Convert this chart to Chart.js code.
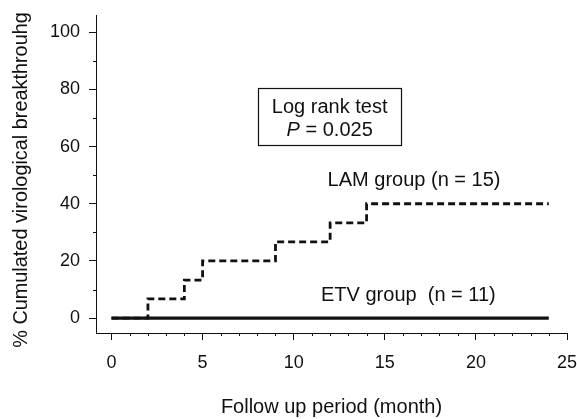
<!DOCTYPE html>
<html>
<head>
<meta charset="utf-8">
<script src="https://cdn.jsdelivr.net/npm/chart.js@4/dist/chart.umd.min.js"></script>
<style>
  html, body { margin: 0; padding: 0; background: #fff; }
  #wrap { width: 577px; height: 419px; }
</style>
</head>
<body>
<div id="wrap"><canvas id="c" width="577" height="419"></canvas></div>
<script>
// ---- data ----
const lamMonths = [0, 2, 4, 5, 9, 12, 14, 24];
const lamValues = [0, 6.7, 13.3, 20, 26.7, 33.3, 40, 40];
const etvMonths = [0, 24];
const etvValues = [0, 0];
const xTicks = [0, 5, 10, 15, 20, 25];
const yTicks = [0, 20, 40, 60, 80, 100];
const xMinor = [1,2,3,4,6,7,8,9,11,12,13,14,16,17,18,19,21,22,23,24];
const yMinor = [10, 30, 50, 70, 90];
const yTitle = '% Cumulated virological breakthrouhg';
const labelLam = 'LAM group (n = 15)';
const labelEtv = 'ETV group  (n = 11)';
const boxLine1 = 'Log rank test';
const boxLine2 = '0.025';

const FONT = '"Liberation Sans", Arial, Helvetica, sans-serif';
const INK = '#111';

const toXY = (xs, ys) => xs.map((x, i) => ({x, y: ys[i]}));

const annot = {
  id: 'annot',
  afterDatasetsDraw(chart) {
    const {ctx, scales: {x, y}} = chart;
    ctx.save();
    // minor ticks
    ctx.strokeStyle = INK; ctx.lineWidth = 1;
    const ax = y.right, ay = x.top;
    yMinor.forEach(v => {
      const py = Math.round(y.getPixelForValue(v)) + 0.5;
      ctx.beginPath(); ctx.moveTo(ax - 3, py); ctx.lineTo(ax, py); ctx.stroke();
    });
    xMinor.forEach(v => {
      const px = Math.round(x.getPixelForValue(v)) + 0.5;
      ctx.beginPath(); ctx.moveTo(px, ay); ctx.lineTo(px, ay + 3); ctx.stroke();
    });
    // y axis title (rotated, fitted to the reference length)
    ctx.fillStyle = INK;
    ctx.font = '20px ' + FONT;
    const w20 = ctx.measureText(yTitle).width;
    const fs = Math.min(20, 20 * 336 / w20);
    ctx.save();
    ctx.translate(22, 180);
    ctx.rotate(-Math.PI / 2);
    ctx.font = fs.toFixed(2) + 'px ' + FONT;
    ctx.textAlign = 'center'; ctx.textBaseline = 'middle';
    ctx.fillText(yTitle, 0, 0);
    ctx.restore();
    // labels
    ctx.font = '20px ' + FONT;
    ctx.textAlign = 'left'; ctx.textBaseline = 'middle';
    ctx.fillText(labelLam, x.getPixelForValue(11.86), y.getPixelForValue(48.3));
    ctx.fillText(labelEtv, x.getPixelForValue(11.5), y.getPixelForValue(8));
    // box
    const bl = x.getPixelForValue(8.05), br = x.getPixelForValue(15.9);
    const bt = y.getPixelForValue(80.4), bb = y.getPixelForValue(60.5);
    ctx.lineWidth = 1.2;
    ctx.strokeRect(Math.round(bl) + 0.5, Math.round(bt) + 0.5, Math.round(br - bl), Math.round(bb - bt));
    const cx = (bl + br) / 2;
    ctx.textAlign = 'center';
    ctx.fillText(boxLine1, cx, y.getPixelForValue(73.6));
    // P = 0.025 with italic P
    const py = y.getPixelForValue(65.6);
    ctx.font = 'italic 20px ' + FONT;
    const wP = ctx.measureText('P').width;
    ctx.font = '20px ' + FONT;
    const rest = ' = ' + boxLine2;
    const wR = ctx.measureText(rest).width;
    const sx = cx - (wP + wR) / 2;
    ctx.textAlign = 'left';
    ctx.font = 'italic 20px ' + FONT;
    ctx.fillText('P', sx, py);
    ctx.font = '20px ' + FONT;
    ctx.fillText(rest, sx + wP, py);
    ctx.restore();
  }
};

new Chart(document.getElementById('c'), {
  type: 'line',
  data: {
    datasets: [
      {
        label: 'ETV group',
        data: toXY(etvMonths, etvValues),
        borderColor: INK, borderWidth: 3.2,
        pointRadius: 0, fill: false, stepped: 'before'
      },
      {
        label: 'LAM group',
        data: toXY(lamMonths, lamValues),
        borderColor: INK, borderWidth: 2.8, borderDash: [7, 4],
        pointRadius: 0, fill: false, stepped: 'before'
      }
    ]
  },
  options: {
    responsive: false,
    animation: false,
    layout: { padding: { left: 0, right: 0, top: 15, bottom: 0 } },
    plugins: { legend: { display: false }, tooltip: { enabled: false } },
    scales: {
      x: {
        type: 'linear', min: -0.85, max: 25,
        afterBuildTicks(s) { s.ticks = xTicks.map(v => ({value: v})); },
        afterFit(s) { s.height = 86; s.paddingRight = 10; s.paddingLeft = 0; },
        grid: { drawOnChartArea: false, drawTicks: true, tickLength: 7, color: INK },
        border: { display: true, color: INK, width: 1 },
        ticks: { color: INK, font: { family: FONT, size: 18 }, padding: 12, maxRotation: 0 },
        title: { display: true, text: 'Follow up period (month)', color: INK,
                 font: { family: FONT, size: 20 }, padding: { top: 22, bottom: 0 } }
      },
      y: {
        type: 'linear', min: -5.2, max: 106,
        afterBuildTicks(s) { s.ticks = yTicks.map(v => ({value: v})); },
        afterFit(s) { s.width = 96; s.paddingTop = 0; s.paddingBottom = 0; },
        grid: { drawOnChartArea: false, drawTicks: true, tickLength: 7, color: INK },
        border: { display: true, color: INK, width: 1 },
        ticks: { color: INK, font: { family: FONT, size: 18 }, padding: 9 },
        title: { display: false }
      }
    }
  },
  plugins: [annot]
});
</script>
</body>
</html>
